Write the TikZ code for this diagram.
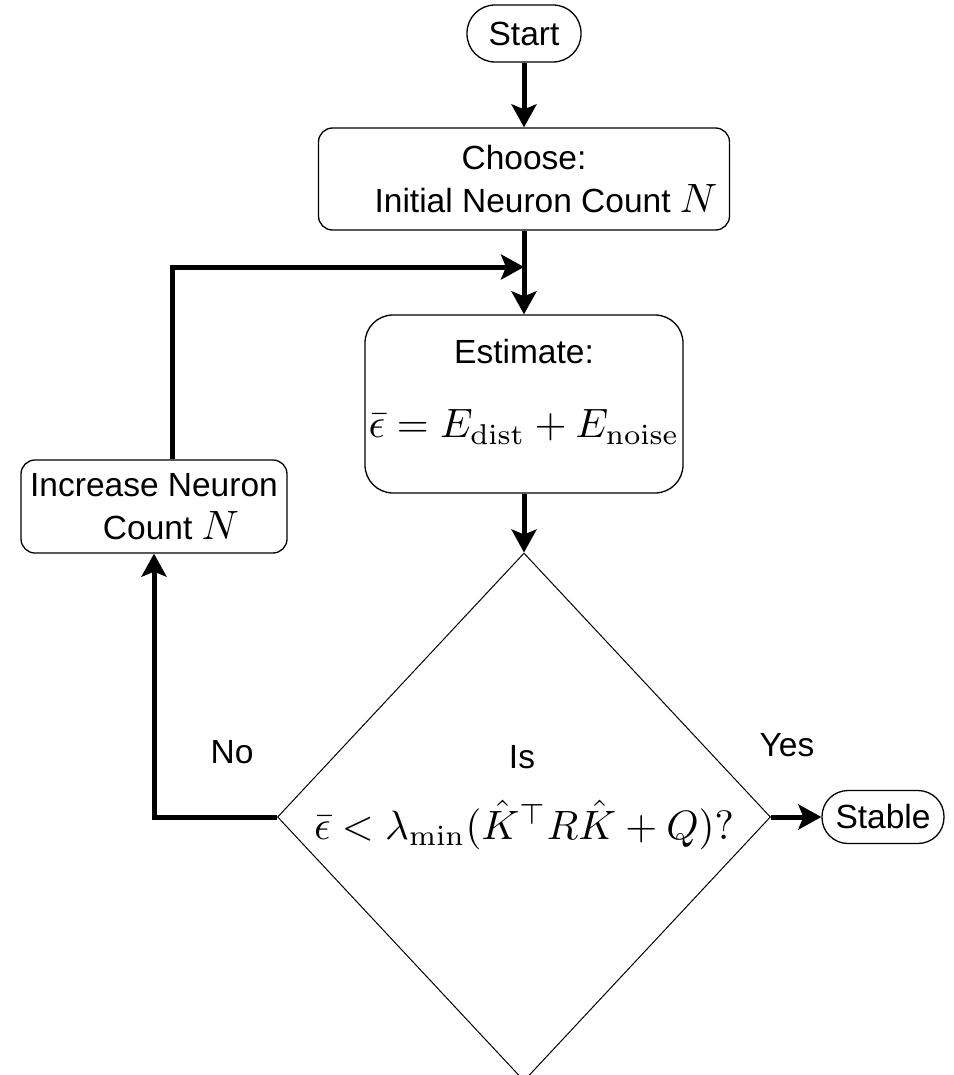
\RequirePackage{fix-cm}
\documentclass[tikz,border=0pt]{standalone}
\usepackage{graphicx}
\usepackage[no-math]{fontspec}
\setmainfont{Liberation Sans}
\usetikzlibrary{shapes.geometric,arrows.meta,calc}
\newcommand{\MM}[1]{\scalebox{2.05}{\fontsize{10}{12}\selectfont$#1$}}
\tikzset{
  txt/.style={font=\fontsize{16.75}{20.5}\selectfont, inner sep=0pt},
  box/.style={draw, line width=0.65pt, align=center, txt},
  pill/.style={box},
  arr/.style={line width=2.5pt, -{Stealth[length=11.5pt,width=12.5pt,inset=2.5pt]}},
  thinline/.style={draw, line width=0.5pt}
}
\begin{document}
\begin{tikzpicture}[x=0.5pt,y=-0.5pt]
\useasboundingbox (0,0) rectangle (953,1075);
% nodes
\node[pill, minimum width=57pt, minimum height=28.5pt, rounded corners=14pt] (start) at (524,33.5) {Start};
\node[box, minimum width=205.5pt, minimum height=51pt, rounded corners=7pt] (choose) at (524,179)
  {Choose:\\[1pt]\hspace*{22pt}Initial Neuron Count \MM{N}};
\node[box, minimum width=159pt, minimum height=89pt, rounded corners=14pt] (est) at (524,404) {};
\node[txt] (estT) at (524,352) {Estimate:};
\node[txt] (estF) at (524,427) {\MM{\bar{\epsilon} = E_{\mathrm{dist}} + E_{\mathrm{noise}}}};
\node[box, minimum width=133pt, minimum height=46.5pt, rounded corners=7pt] (inc) at (154,506.5)
  {Increase Neuron\\[1pt]\hspace*{17pt}Count \MM{N}};
\node[diamond, thinline, minimum width=246.5pt, minimum height=264pt, inner sep=0pt] (dia) at (524,817) {};
\node[txt] (isT) at (522,757) {Is};
\node[txt] (isF) at (524,825) {\MM{\bar{\epsilon} < \lambda_{\min}(\hat{K}^{\top} R \hat{K} + Q)?}};
\node[pill, minimum width=61pt, minimum height=26.5pt, rounded corners=13pt] (stable) at (883,817) {Stable};
\node[txt] (no) at (232,752) {No};
\node[txt] (yes) at (787,745) {Yes};
\coordinate (j) at (524,267);
% connectors
\draw[arr] (start.south) -- (choose.north);
\draw[arr] (choose.south) -- (est.north);
\draw[arr] (est.south) -- (dia.north);
\draw[arr] (dia.west) -| (inc.south);
\draw[arr] ([xshift=9pt]inc.north) |- (j);
\draw[arr] (dia.east) -- (stable.west);
\end{tikzpicture}
\end{document}
